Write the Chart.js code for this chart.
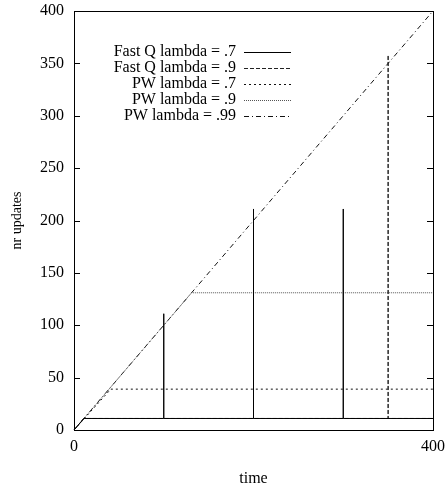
<!DOCTYPE html>
<html>
<head>
<meta charset="utf-8">
<script src="https://cdn.jsdelivr.net/npm/chart.js@4/dist/chart.umd.min.js"></script>
<style>
  html, body { margin: 0; padding: 0; background: #fff; }
  canvas { display: block; }
</style>
</head>
<body>
<canvas id="c" width="445" height="487"></canvas>
<script>
// ---- data ----
const xTicks = [0, 400];
const yTicks = [0, 50, 100, 150, 200, 250, 300, 350, 400];
const seriesLabels = ['Fast Q lambda = .7', 'Fast Q lambda = .9', 'PW lambda = .7', 'PW lambda = .9', 'PW lambda = .99'];

const fastQ07X = [0, 11, 100, 100, 100, 200, 200, 200, 300, 300, 300, 400];
const fastQ07Y = [0, 11, 11, 111, 11, 11, 211, 11, 11, 211, 11, 11];
const fastQ09X = [0, 11, 350, 350, 350, 400];
const fastQ09Y = [0, 11, 11, 358, 11, 11];
const pw07X = [0, 41, 400];
const pw07Y = [0, 39, 39];
const pw09X = [0, 131, 400];
const pw09Y = [0, 131, 131];
const pw099X = [0, 400];
const pw099Y = [0, 400];

const seriesX = [fastQ07X, fastQ09X, pw07X, pw09X, pw099X];
const seriesY = [fastQ07Y, fastQ09Y, pw07Y, pw09Y, pw099Y];
const dashes = [[], [4, 2], [2, 3], [1, 1], [5, 3, 1, 3]];
const colors = ['#000', '#222', '#111', '#555', '#111'];

const FONT = "'Liberation Serif', 'Times New Roman', serif";

const datasets = seriesLabels.map((lab, i) => ({
  label: lab,
  data: seriesX[i].map((x, j) => ({ x: x, y: seriesY[i][j] })),
  showLine: true,
  borderColor: colors[i],
  borderWidth: 1,
  borderDash: dashes[i],
  pointRadius: 0,
  tension: 0,
  fill: false,
  clip: false
}));

const framePlugin = {
  id: 'frame',
  afterDatasetsDraw(chart) {
    const ctx = chart.ctx;
    const a = chart.chartArea;
    const ys = chart.scales.y;
    ctx.save();
    ctx.strokeStyle = '#000';
    ctx.lineWidth = 1;
    ctx.setLineDash([]);
    ctx.strokeRect(Math.round(a.left) + 0.5, Math.round(a.top) + 0.5,
                   Math.round(a.right - a.left), Math.round(a.bottom - a.top));
    ctx.beginPath();
    yTicks.forEach(v => {
      const p = Math.round(ys.getPixelForValue(v)) + 0.5;
      ctx.moveTo(a.left, p); ctx.lineTo(a.left + 6, p);
      ctx.moveTo(a.right - 6, p); ctx.lineTo(a.right, p);
    });
    ctx.stroke();

    // legend (key) inside plot
    ctx.font = '16px ' + FONT;
    ctx.fillStyle = '#000';
    ctx.textAlign = 'right';
    ctx.textBaseline = 'middle';
    seriesLabels.forEach((lab, i) => {
      const y = 52 + 16 * i;
      ctx.fillText(lab, 236, y);
      ctx.beginPath();
      ctx.strokeStyle = colors[i];
      ctx.setLineDash(dashes[i]);
      ctx.moveTo(244, Math.round(y) + 0.5);
      ctx.lineTo(291, Math.round(y) + 0.5);
      ctx.stroke();
    });
    ctx.restore();
  }
};

new Chart(document.getElementById('c'), {
  type: 'scatter',
  data: { datasets: datasets },
  options: {
    responsive: false,
    animation: false,
    devicePixelRatio: 1,
    layout: { padding: { left: 0, right: 12, top: 11, bottom: 0 } },
    plugins: { legend: { display: false }, tooltip: { enabled: false } },
    scales: {
      x: {
        type: 'linear',
        min: 0, max: 400,
        grid: { display: false, drawTicks: false },
        border: { display: false },
        afterBuildTicks: s => { s.ticks = xTicks.map(v => ({ value: v })); },
        afterFit: s => { s.height = 57; s.paddingLeft = 0; s.paddingRight = 0; },
        ticks: { color: '#000', padding: 7, maxRotation: 0, autoSkip: false,
                 font: { family: FONT, size: 16 } },
        title: { display: true, text: 'time', color: '#000',
                 font: { family: FONT, size: 16, lineHeight: 1 }, padding: { top: 0, bottom: 0 } }
      },
      y: {
        type: 'linear',
        min: 0, max: 400,
        grid: { display: false, drawTicks: false },
        border: { display: false },
        afterBuildTicks: s => { s.ticks = yTicks.map(v => ({ value: v })); },
        afterFit: s => { s.width = 74; s.paddingTop = 0; s.paddingBottom = 0; },
        ticks: { color: '#000', padding: 10, autoSkip: false,
                 font: { family: FONT, size: 16 } },
        title: { display: true, text: 'nr updates', color: '#000',
                 font: { family: FONT, size: 14, lineHeight: 1 }, padding: { top: 10, bottom: 0 } }
      }
    }
  },
  plugins: [framePlugin]
});
</script>
</body>
</html>
